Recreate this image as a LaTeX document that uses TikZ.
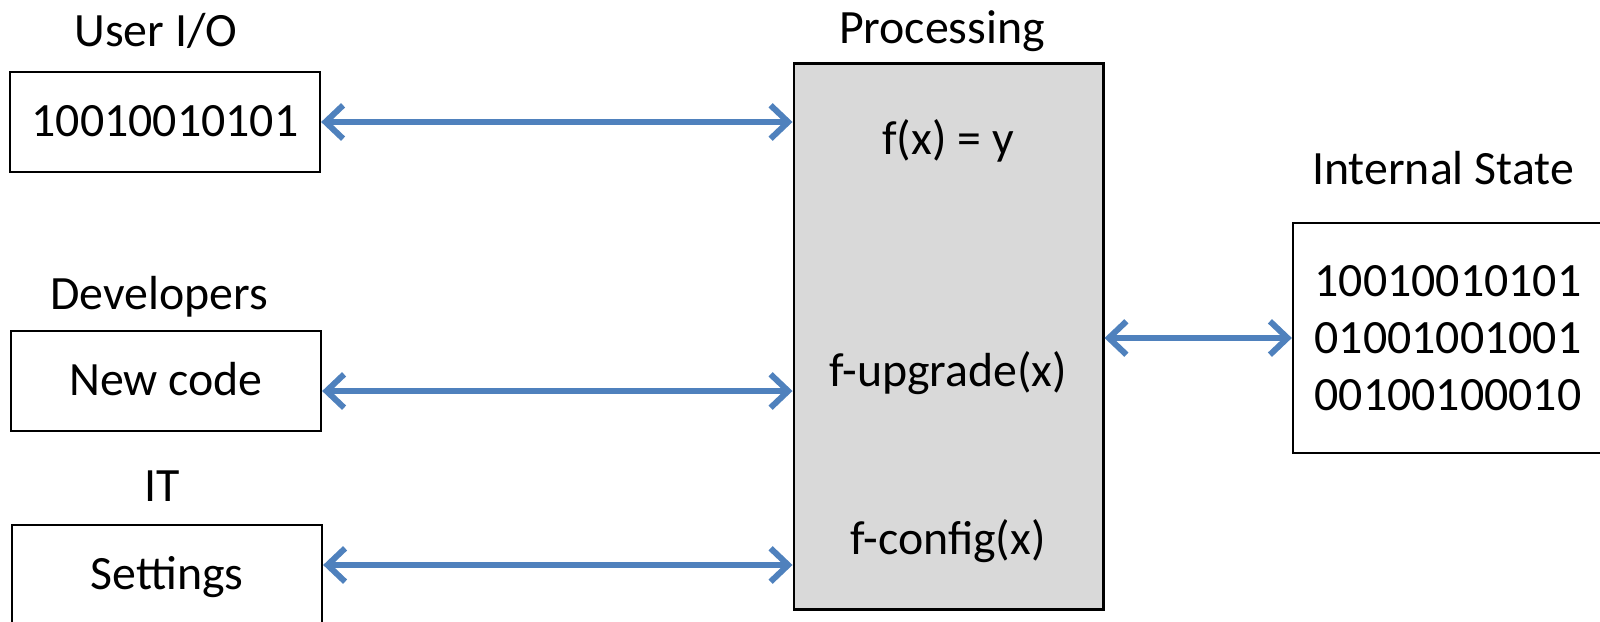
\documentclass[tikz,border=0pt]{standalone}
\usepackage{fontspec}
\setmainfont{Carlito}
\usepackage{tikz}
\usetikzlibrary{arrows.meta,positioning}
\definecolor{linkblue}{HTML}{4F81BD}
\definecolor{procgray}{HTML}{D9D9D9}
\tikzset{
	box/.style={draw, line width=0.6pt, align=center, inner sep=0pt,
		minimum width=3.1cm, minimum height=1.0cm,
		text height=0.82em, text depth=0pt},
	statebox/.style={draw, line width=0.6pt, align=center, inner sep=0pt,
		minimum width=3.1cm, minimum height=2.29cm},
	heading/.style={anchor=base, inner sep=0pt},
	funclabel/.style={anchor=base, inner sep=0pt},
	arrow/.style={{Straight Barb[length=5pt,width=9.5pt]}-{Straight Barb[length=5pt,width=9.5pt]},
		draw=linkblue, line width=1.7pt}
}

\begin{document}
\begin{tikzpicture}[x=0.01cm, y=-0.01cm,
			font=\fontsize{13.6pt}{16.2pt}\selectfont]
			\clip (0,0) rectangle (1600,621);
			
			%% -- Left column: sources and their boxes
			\node[heading] (uiolabel) at (156,47) {User I/O};
			\node[box] (userbits) at (165,122) {10010010101};
			
			\node[heading] (devlabel) at (159,309) {Developers};
			\node[box] (newcode) at (166,381) {New code};
			
			\node[heading] (itlabel) at (162,501) {IT};
			\node[box] (settings) at (167,575) {Settings};
			
			%% -- Processing block in the middle
			\node[heading] (proclabel) at (942,43) {Processing};
			\node[draw, line width=0.8pt, fill=procgray, inner sep=0pt,
			minimum width=3.09cm, minimum height=5.45cm] (proc) at (948.5,336.5) {};
			
			\node[funclabel] (fx) at (948,154) {f(x) = y};
			\node[funclabel] (fup) at (948,386) {f-upgrade(x)};
			\node[funclabel] (fconf) at (948,554) {f-config(x)};
			
			%% -- Internal state on the right
			\node[heading] (statelabel) at (1443,184) {Internal State};
			\node[statebox] (state) at (1448,338)
			{10010010101\\01001001001\\00100100010};
			
			%% -- Two-way links
			\draw[arrow] (userbits.east) -- (userbits.east -| proc.west);
			\draw[arrow] ([yshift=-0.1cm]newcode.east) -- ([yshift=-0.1cm]newcode.east -| proc.west);
			\draw[arrow] ([yshift=0.1cm]settings.east) -- ([yshift=0.1cm]settings.east -| proc.west);
			\draw[arrow] (proc.east |- state.west) -- (state.west);
			
		\end{tikzpicture}
\end{document}
